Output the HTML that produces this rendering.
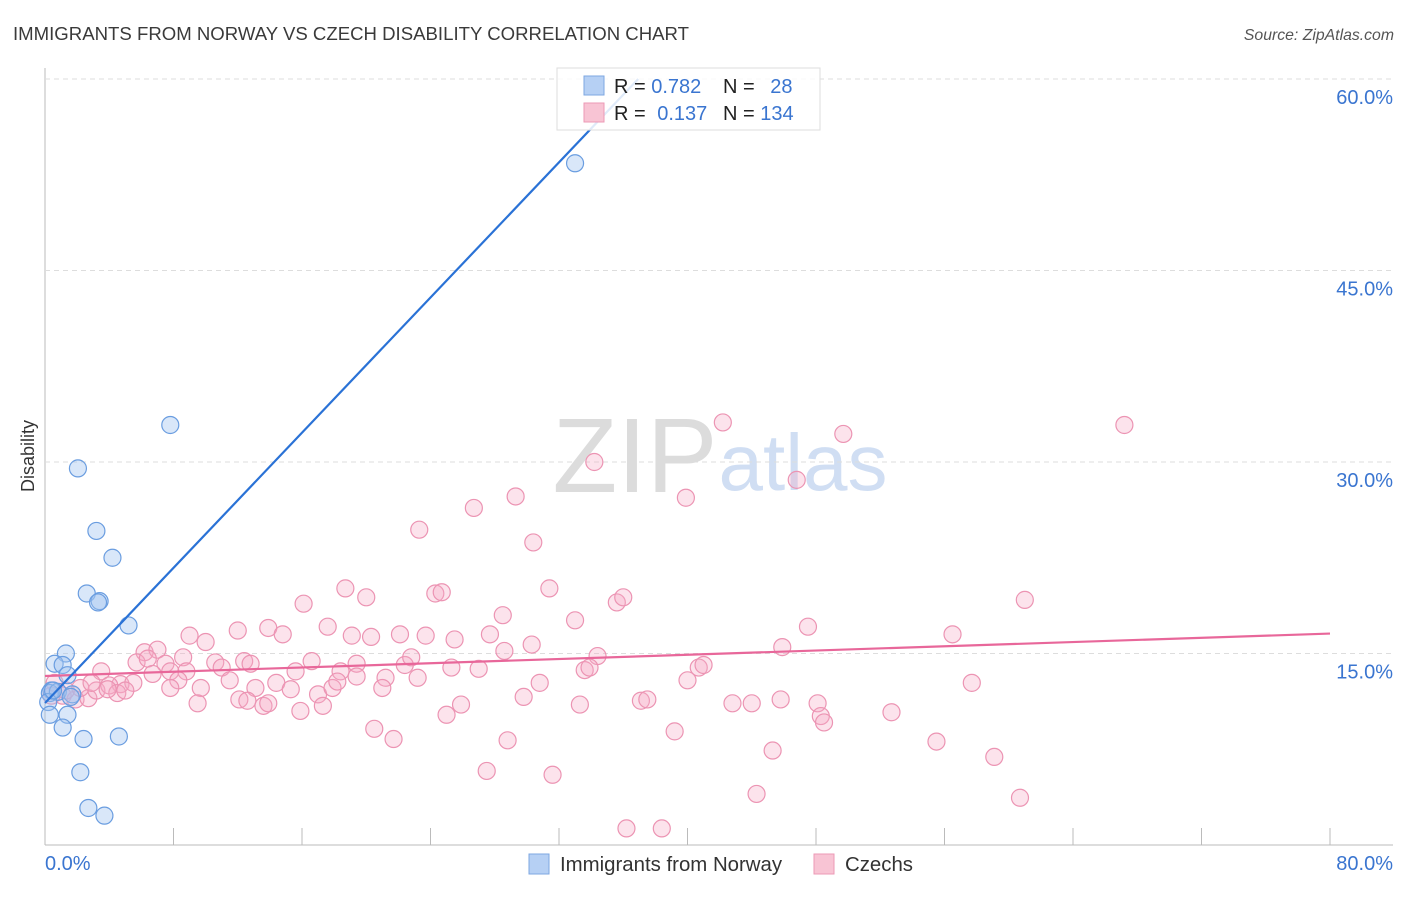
<!DOCTYPE html>
<html><head><meta charset="utf-8"><style>
body{margin:0;background:#fff;font-family:"Liberation Sans",sans-serif;}
svg text{font-family:"Liberation Sans",sans-serif;}
</style></head><body>
<svg id="chart" width="1406" height="892">
<text x="13" y="40" font-size="18.6" fill="#3a3a3a">IMMIGRANTS FROM NORWAY VS CZECH DISABILITY CORRELATION CHART</text>
<text x="1394" y="40" font-size="15.8" fill="#555" font-style="italic" text-anchor="end">Source: ZipAtlas.com</text>
<text transform="translate(34,456) rotate(-90)" font-size="18" fill="#333" text-anchor="middle">Disability</text>
<g>
<text x="635" y="492" font-size="106" fill="#dcdcdc" font-family="Liberation Serif,serif" text-anchor="middle">ZIP</text>
<text x="803" y="490" font-size="80" fill="#d0def3" text-anchor="middle">atlas</text>
</g>
<g id="grid"></g>
<g id="marks"></g>
<g>
<rect x="557" y="68" width="263" height="62" fill="#fff" fill-opacity="0.85" stroke="#ddd"/>
<rect x="584" y="76" width="20" height="19" fill="#b6d0f4" stroke="#7ea7e2"/>
<rect x="584" y="103" width="20" height="19" fill="#f8c4d4" stroke="#ec9ab6"/>
<text x="614" y="93" font-size="20" fill="#222">R = <tspan fill="#3a75d0">0.782</tspan></text>
<text x="723" y="93" font-size="20" fill="#222">N = <tspan fill="#3a75d0" dx="10">28</tspan></text>
<text x="614" y="120" font-size="20" fill="#222">R = <tspan fill="#3a75d0" dx="6">0.137</tspan></text>
<text x="723" y="120" font-size="20" fill="#222">N = <tspan fill="#3a75d0">134</tspan></text>
</g>
<g>
<rect x="529" y="854" width="20" height="20" fill="#b6d0f4" stroke="#7ea7e2"/>
<text x="560" y="871" font-size="20.4" fill="#333">Immigrants from Norway</text>
<rect x="814" y="854" width="20" height="20" fill="#f8c4d4" stroke="#ec9ab6"/>
<text x="845" y="871" font-size="20.4" fill="#333">Czechs</text>
</g>
<text x="45" y="870" font-size="20" fill="#3a75d0">0.0%</text>
<text x="1393" y="870" font-size="20" fill="#3a75d0" text-anchor="end">80.0%</text>
</svg>
<script>
const yTicks=[15,30,45,60];
const yTickLabels=["15.0%","30.0%","45.0%","60.0%"];
const xTicks=[0,8,16,24,32,40,48,56,64,72,80];
const norwayX=[33.0,7.8,2.05,3.2,4.2,2.6,3.4,3.3,5.2,1.3,0.6,1.1,1.4,0.4,0.3,0.8,1.7,1.6,0.2,0.3,1.4,1.1,2.4,4.6,2.2,2.7,3.7,0.5];
const norwayY=[53.4,32.9,29.5,24.6,22.5,19.7,19.1,19.0,17.2,15.0,14.2,14.1,13.3,12.1,11.9,12.0,11.8,11.6,11.2,10.2,10.2,9.2,8.3,8.5,5.7,2.9,2.3,12.1];
const czechX=[42.2,49.7,67.2,34.2,46.8,29.3,39.9,26.7,23.3,30.4,18.7,20.0,24.3,24.7,31.4,35.6,36.0,16.1,61.0,28.5,33.0,47.5,56.5,9.0,10.0,12.0,13.9,14.8,17.6,19.1,20.3,22.1,23.7,25.5,27.7,30.3,6.2,7.0,8.6,10.6,12.4,12.8,16.6,19.4,22.4,22.8,25.3,27.0,28.6,34.4,45.9,5.7,6.4,7.5,11.0,8.8,15.6,18.4,21.2,23.2,33.6,33.9,40.7,41.0,40.0,3.5,4.7,5.5,6.7,7.8,8.3,9.7,11.5,13.1,14.4,15.3,17.0,17.9,18.2,19.4,21.0,30.8,57.7,0.6,1.1,1.9,2.7,3.2,4.0,4.5,5.0,7.8,9.5,12.1,12.6,13.6,13.9,15.9,17.3,25.9,25.0,29.8,33.3,37.1,37.5,42.8,44.0,45.8,48.1,48.3,48.5,52.7,20.5,21.7,28.8,39.2,45.3,55.5,59.1,27.5,31.6,44.3,60.7,36.2,38.4,0.4,1.3,2.2,3.9,2.9];
const czechY=[33.1,32.2,32.9,30.0,28.6,27.3,27.2,26.4,24.7,23.7,20.1,19.4,19.7,19.8,20.1,19.0,19.4,18.9,19.2,18.0,17.6,17.1,16.5,16.4,15.9,16.8,17.0,16.5,17.1,16.4,16.3,16.5,16.4,16.1,16.5,15.7,15.1,15.3,14.7,14.3,14.4,14.2,14.4,14.2,14.1,14.7,13.9,13.8,15.2,14.8,15.5,14.3,14.6,14.2,13.9,13.6,13.6,13.6,13.1,13.1,13.7,13.9,13.9,14.1,12.9,13.6,12.6,12.7,13.4,13.6,12.9,12.3,12.9,12.3,12.7,12.2,11.8,12.3,12.8,13.2,12.3,12.7,12.7,12.7,11.7,11.4,11.5,12.1,12.5,11.9,12.1,12.3,11.1,11.4,11.3,10.9,11.1,10.5,10.9,11.0,10.2,11.6,11.0,11.3,11.4,11.1,11.1,11.4,11.1,10.1,9.6,10.4,9.1,8.3,8.2,8.9,7.4,8.1,6.9,5.8,5.5,4.0,3.7,1.3,1.3,11.7,12.1,12.3,12.2,12.7];
const NS="http://www.w3.org/2000/svg";
const X0=45,X1=1330,Y0=845,YTOP=79;
function sx(v){return X0+(X1-X0)*v/80;}
function sy(v){return Y0-(Y0-YTOP)*v/60;}
function mk(tag,attrs,parent){const e=document.createElementNS(NS,tag);for(const k in attrs)e.setAttribute(k,attrs[k]);parent.appendChild(e);return e;}
const grid=document.getElementById('grid'),marks=document.getElementById('marks');
const ax=mk('line',{x1:X0,y1:68,x2:X0,y2:Y0,stroke:'#bbb','stroke-width':1},grid);


const bx=mk('line',{x1:X0,y1:Y0,x2:1393,y2:Y0,stroke:'#bbb','stroke-width':1},grid);


yTicks.forEach((t,i)=>{
 const g=mk('line',{x1:X0,y1:sy(t),x2:1393,y2:sy(t),stroke:'#ddd','stroke-dasharray':'5,4'},grid);
 
 
 const l=mk('text',{x:1393,y:sy(t)+25,'font-size':20,fill:'#3a75d0','text-anchor':'end'},grid);
 l.textContent=yTickLabels[i];
 
 
});
xTicks.forEach(t=>{
 const k=mk('line',{x1:sx(t),y1:Y0-17,x2:sx(t),y2:Y0,stroke:'#bbb'},grid);
 
 
});
function fit(xs,ys){const n=xs.length;let mx=0,my=0;for(let i=0;i<n;i++){mx+=xs[i];my+=ys[i];}mx/=n;my/=n;let a=0,b=0;for(let i=0;i<n;i++){a+=(xs[i]-mx)*(ys[i]-my);b+=(xs[i]-mx)**2;}const s=a/b;return [my-s*mx,s];}
czechX.forEach((x,i)=>{
 const c=mk('circle',{cx:sx(x),cy:sy(czechY[i]),r:8.5,fill:'rgba(246,170,196,0.33)',stroke:'#ec94b3','stroke-width':1.2},marks);
 
 
});
norwayX.forEach((x,i)=>{
 const c=mk('circle',{cx:sx(x),cy:sy(norwayY[i]),r:8.5,fill:'rgba(160,196,240,0.4)',stroke:'#6a9de0','stroke-width':1.2},marks);
 
 
});
const [cb,cs]=fit(czechX,czechY);
const cl=mk('line',{x1:sx(0),y1:sy(cb),x2:sx(80),y2:sy(cb+cs*80),stroke:'#e8679a','stroke-width':2.2},marks);


const [nb,ns]=fit(norwayX,norwayY);
const xe=Math.min(80,(60-nb)/ns);
const nl=mk('line',{x1:sx(0),y1:sy(nb),x2:sx(xe),y2:sy(nb+ns*xe),stroke:'#2a72d6','stroke-width':2.2},marks);


</script>
</body></html>
